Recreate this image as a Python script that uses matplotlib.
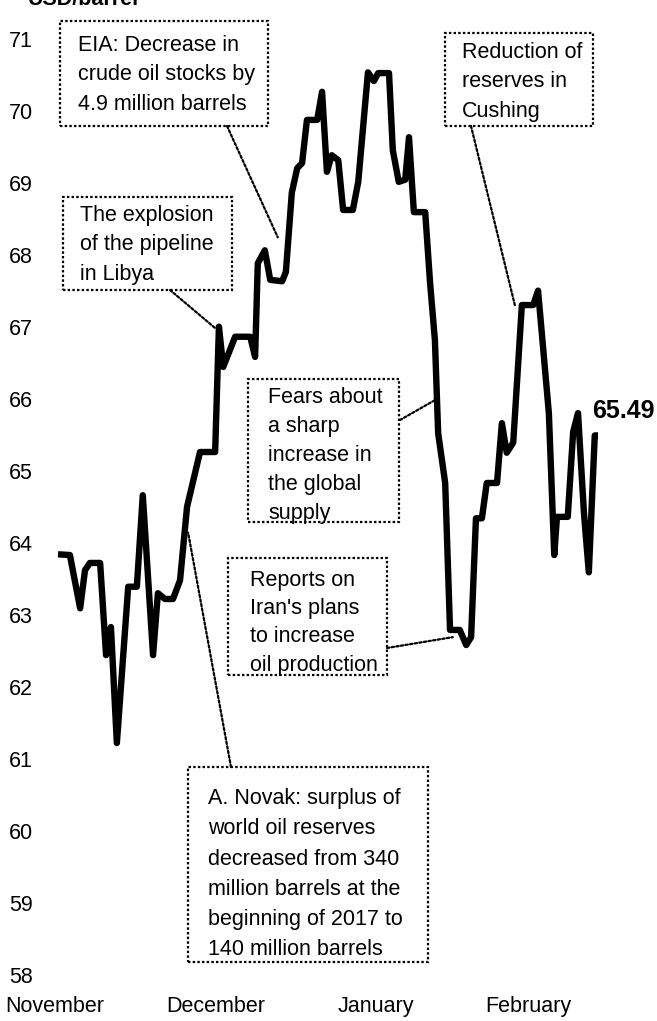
import matplotlib
matplotlib.use("Agg")
import matplotlib.pyplot as plt
import matplotlib.font_manager as fm
from matplotlib.patches import Rectangle

# ---------------- data ----------------
days = [0.0, 2.2, 4.1, 5.0, 5.9, 7.8, 8.9, 9.8, 10.9, 13.0, 14.6, 15.7, 17.6, 18.5,
        19.8, 21.3, 22.6, 23.9, 26.3, 29.1, 29.8, 30.6, 32.8, 35.6, 36.5, 37.0,
        38.3, 39.3, 41.5, 42.2, 43.3, 44.3, 45.2, 46.1, 48.0, 48.9, 49.8, 50.7,
        51.9, 52.8, 54.6, 55.6, 57.4, 58.5, 59.3, 61.3, 62.0, 63.1, 64.3, 65.0,
        65.9, 68.0, 68.9, 69.8, 70.4, 71.7, 72.6, 74.4, 75.6, 76.5, 77.4, 78.5,
        79.4, 81.3, 82.2, 83.1, 84.3, 85.9, 88.0, 88.9, 90.9, 91.9, 92.4, 94.4,
        95.4, 96.3, 97.4, 98.3, 99.4, 100.0]
prices = [63.84, 63.83, 63.09, 63.62, 63.72, 63.72, 62.44, 62.83, 61.22, 63.39,
          63.39, 64.66, 62.44, 63.30, 63.22, 63.22, 63.48, 64.50, 65.26, 65.26,
          67.00, 66.44, 66.86, 66.86, 66.58, 67.88, 68.06, 67.65, 67.63, 67.76,
          68.86, 69.20, 69.27, 69.87, 69.87, 70.26, 69.15, 69.38, 69.31, 68.62,
          68.62, 69.01, 70.53, 70.41, 70.52, 70.52, 69.45, 69.01, 69.04, 69.63,
          68.59, 68.59, 67.61, 66.81, 65.52, 64.83, 62.79, 62.79, 62.58, 62.69,
          64.34, 64.34, 64.83, 64.83, 65.66, 65.25, 65.39, 67.30, 67.30, 67.50,
          65.80, 63.83, 64.36, 64.36, 65.54, 65.80, 64.41, 63.59, 65.49, 65.49]

y_ticks = list(range(58, 72))
month_labels = ["November", "December", "January", "February"]
unit_label = "USD/barrel"

notes = [
    "EIA: Decrease in\ncrude oil stocks by\n4.9 million barrels",
    "The explosion\nof the pipeline\nin Libya",
    "Reduction of\nreserves in\nCushing",
    "Fears about\na sharp\nincrease in\nthe global\nsupply",
    "Reports on\nIran's plans\nto increase\noil production",
    "A. Novak: surplus of\nworld oil reserves\ndecreased from 340\nmillion barrels at the\nbeginning of 2017 to\n140 million barrels",
]
# points of the series each note refers to (day, price)
note_targets = [(40.7, 68.24), (29.1, 66.98), (84.6, 67.30),
                (69.8, 65.98), (73.1, 62.69), (24.1, 64.14)]

# ---------------- layout ----------------
W, H = 657, 1021
avail = {f.name for f in fm.fontManager.ttflist}
NARROW_OK = "Liberation Sans Narrow" in avail
AXFONT = ["Liberation Sans Narrow", "Liberation Sans"] if NARROW_OK else ["Liberation Sans"]
AX_SIZE = 18 if NARROW_OK else 15.5
NOTE_FONT = ["Liberation Sans", "DejaVu Sans"]
NOTE_SIZE = 15.5

fig = plt.figure(figsize=(W / 100, H / 100), dpi=100)
fig.patch.set_facecolor("white")

def fx(x):
    return x / W

def fy(y):
    return 1 - y / H

ax_left, ax_right, ax_top, ax_bottom = 40, 600, 30, 985
ax = fig.add_axes([fx(ax_left), fy(ax_bottom), (ax_right - ax_left) / W,
                   (ax_bottom - ax_top) / H])
px_per_day = 5.4
px_per_unit = 72.04
ax.set_xlim((ax_left - 58) / px_per_day, (ax_right - 58) / px_per_day)
ax.set_ylim(71 - (ax_bottom - 38.5) / px_per_unit, 71 + (38.5 - ax_top) / px_per_unit)

ax.plot(days, prices, color="black", lw=4.6, solid_joinstyle="round",
        solid_capstyle="butt", zorder=5)

for s in ax.spines.values():
    s.set_visible(False)
ax.set_yticks(y_ticks)
ax.set_yticklabels([str(v) for v in y_ticks], family=AXFONT, fontsize=AX_SIZE)
month_pos = [(c - 58) / px_per_day for c in (55, 216, 376, 528)]
ax.set_xticks(month_pos)
ax.set_xticklabels(month_labels, family=AXFONT, fontsize=AX_SIZE)
ax.tick_params(axis="both", length=0)
ax.tick_params(axis="y", pad=5)
ax.tick_params(axis="x", pad=8)
ax.set_facecolor("none")

# last value label
ax.annotate(f"{prices[-1]:.2f}", xy=(days[-1], prices[-1]), xytext=(-6, 24),
            textcoords="offset pixels", ha="left", va="center",
            family=AXFONT, fontsize=AX_SIZE + 2.5, fontweight="bold", zorder=6,
            annotation_clip=False)

# unit label (partly cut at top, as in the reference)
fig.text(fx(28), fy(5), unit_label, family=AXFONT, fontsize=AX_SIZE,
         fontweight="bold", ha="left", va="baseline")

# ---------------- annotation boxes ----------------
DOT = (0, (1.1, 1.0))
# box: (left, top, right, bottom), text origin (x, first-line top), connector start, spacing
boxes = [
    ((60, 21, 268, 126), (78, 35), (227, 126), 1.52),
    ((63, 197, 232, 290), (80, 205), (170, 290), 1.52),
    ((445, 33, 593, 126), (462, 42), (471, 126), 1.52),
    ((248, 379, 399, 522), (268, 387), (400, 420), 1.50),
    ((228, 558, 387, 675), (250, 570), (387, 648), 1.45),
    ((188, 767, 428, 962), (208, 788), (231, 767), 1.58),
]
for text, (box, torg, cstart, lsp), target in zip(notes, boxes, note_targets):
    l, t, r, b = box
    rect = Rectangle((fx(l), fy(b)), (r - l) / W, (b - t) / H,
                     transform=fig.transFigure, fill=False, edgecolor="black",
                     lw=1.6, linestyle=DOT, zorder=3)
    fig.add_artist(rect)
    fig.text(fx(torg[0]), fy(torg[1]), text, family=NOTE_FONT,
             fontsize=NOTE_SIZE, ha="left", va="top", linespacing=lsp)
    ax.annotate("", xy=target, xycoords="data",
                xytext=(cstart[0], H - cstart[1]), textcoords="figure pixels",
                arrowprops=dict(arrowstyle="-", lw=1.6, linestyle=DOT,
                                color="black", shrinkA=0, shrinkB=0),
                annotation_clip=False, zorder=4)

fig.savefig("out.png", dpi=100, facecolor="white")
